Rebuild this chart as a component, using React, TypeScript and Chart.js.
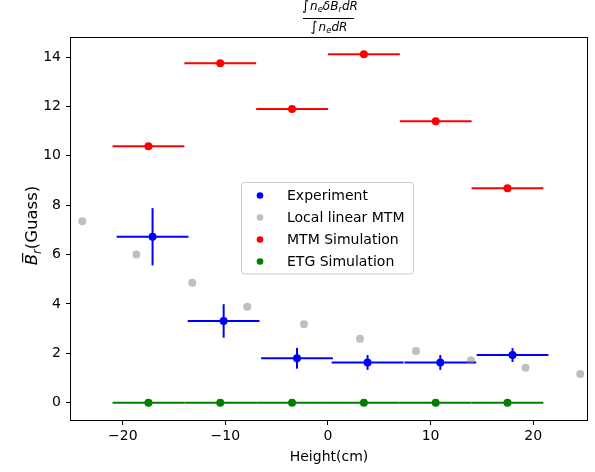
import React, { useEffect, useRef } from 'react';
import { Chart, registerables } from 'chart.js';

Chart.register(...registerables);

// ---- data ----
const binCenters = [-17.5, -10.5, -3.5, 3.5, 10.5, 17.5];
const binHalfWidths = [3.5, 3.5, 3.5, 3.5, 3.5, 3.5];

const expX = [-17.1, -10.17, -3.02, 3.86, 10.95, 17.99];
const expY = [6.72, 3.31, 1.8, 1.63, 1.63, 1.93];
const expXErr = [3.5, 3.5, 3.5, 3.5, 3.5, 3.5];
const expYErr = [1.16, 0.68, 0.42, 0.3, 0.3, 0.28];

const linX = [-23.95, -18.68, -13.23, -7.87, -2.34, 3.12, 8.58, 13.94, 19.26, 24.59];
const linY = [7.35, 6.0, 4.86, 3.89, 3.18, 2.59, 2.09, 1.72, 1.42, 1.16];

const mtmY = [10.39, 13.75, 11.89, 14.11, 11.4, 8.69];
const etgY = [0, 0, 0, 0, 0, 0];

const xTicks = [-20, -10, 0, 10, 20];
const yTicks = [0, 2, 4, 6, 8, 10, 12, 14];

const seriesLabels = ['Experiment', 'Local linear MTM', 'MTM Simulation', 'ETG Simulation'];
const seriesColors = ['#0000ff', 'rgba(128,128,128,0.5)', '#ff0000', '#008000'];

const FONT = '"DejaVu Sans", sans-serif';

type Run = { t: string; size: number; italic?: boolean; dy?: number; gap?: number };

function runsWidth(ctx: CanvasRenderingContext2D, runs: Run[]) {
  let w = 0;
  for (const r of runs) {
    ctx.font = `${r.italic ? 'italic ' : ''}${r.size}px ${FONT}`;
    w += ctx.measureText(r.t).width + (r.gap || 0);
  }
  return w;
}

function drawRuns(ctx: CanvasRenderingContext2D, runs: Run[], x: number, y: number) {
  let cx = x;
  const pos: number[] = [];
  for (const r of runs) {
    ctx.font = `${r.italic ? 'italic ' : ''}${r.size}px ${FONT}`;
    pos.push(cx);
    ctx.fillText(r.t, cx, y + (r.dy || 0));
    cx += ctx.measureText(r.t).width + (r.gap || 0);
  }
  return pos;
}

const errorBarPlugin = {
  id: 'errorBars',
  beforeDatasetsDraw(chart: any) {
    const { ctx, scales } = chart;
    const xs = scales.x;
    const ys = scales.y;
    ctx.save();
    ctx.lineWidth = 2;
    ctx.lineCap = 'butt';
    chart.data.datasets.forEach((ds: any) => {
      if (!ds.xErr && !ds.yErr) return;
      ctx.strokeStyle = ds.errColor;
      ds.data.forEach((p: any, i: number) => {
        const px = xs.getPixelForValue(p.x);
        const py = ys.getPixelForValue(p.y);
        if (ds.xErr) {
          ctx.beginPath();
          ctx.moveTo(xs.getPixelForValue(p.x - ds.xErr[i]), py);
          ctx.lineTo(xs.getPixelForValue(p.x + ds.xErr[i]), py);
          ctx.stroke();
        }
        if (ds.yErr) {
          ctx.beginPath();
          ctx.moveTo(px, ys.getPixelForValue(p.y - ds.yErr[i]));
          ctx.lineTo(px, ys.getPixelForValue(p.y + ds.yErr[i]));
          ctx.stroke();
        }
      });
    });
    ctx.restore();
  },
};

const decorPlugin = {
  id: 'decor',
  afterDatasetsDraw(chart: any) {
    const { ctx, chartArea } = chart;
    const { left, right, top, bottom } = chartArea;
    ctx.save();
    // frame
    ctx.strokeStyle = '#000';
    ctx.lineWidth = 1;
    ctx.strokeRect(left - 0.5, top - 0.5, right - left + 1, bottom - top + 1);

    // legend
    const bx = 241.5, by = 182.5, bw = 172, bh = 91.5;
    ctx.fillStyle = 'rgba(255,255,255,0.8)';
    ctx.strokeStyle = '#cccccc';
    ctx.beginPath();
    ctx.roundRect(bx, by, bw, bh, 3);
    ctx.fill();
    ctx.stroke();
    const rowY = [195.5, 217.5, 239.5, 261.5];
    ctx.textBaseline = 'middle';
    ctx.textAlign = 'left';
    chart.data.datasets.slice(0, 4).forEach((ds: any, i: number) => {
      ctx.fillStyle = ds.backgroundColor;
      ctx.beginPath();
      ctx.arc(260, rowY[i], 3.3, 0, Math.PI * 2);
      ctx.fill();
      ctx.fillStyle = '#000';
      ctx.font = `14px ${FONT}`;
      ctx.fillText(ds.label, 287, rowY[i] + 0.5);
    });

    // title (fraction)
    ctx.fillStyle = '#000';
    ctx.textBaseline = 'alphabetic';
    const num: Run[] = [
      { t: '\u222B', size: 13.5, gap: 1 },
      { t: 'n', size: 12, italic: true },
      { t: 'e', size: 8.5, italic: true, dy: 2 },
      { t: '\u03B4B', size: 12, italic: true },
      { t: 'r', size: 8.5, italic: true, dy: 2 },
      { t: 'dR', size: 12, italic: true },
    ];
    const den: Run[] = [
      { t: '\u222B', size: 13.5, gap: 1 },
      { t: 'n', size: 12, italic: true },
      { t: 'e', size: 8.5, italic: true, dy: 2 },
      { t: 'dR', size: 12, italic: true },
    ];
    const cx = (left + right) / 2;
    drawRuns(ctx, num, 302, 9.5);
    ctx.fillRect(303, 18, 51, 1);
    const dw = runsWidth(ctx, den);
    drawRuns(ctx, den, cx - dw / 2, 30.5);

    // x-axis title
    ctx.textAlign = 'center';
    ctx.textBaseline = 'middle';
    ctx.font = `14px ${FONT}`;
    ctx.fillText('Height(cm)', cx, 457.5);

    // y-axis title
    ctx.save();
    ctx.translate(37, 225.5);
    ctx.rotate(-Math.PI / 2);
    ctx.textAlign = 'left';
    ctx.textBaseline = 'alphabetic';
    const ylab: Run[] = [
      { t: 'B', size: 16.5, italic: true },
      { t: 'r', size: 11.5, italic: true, dy: 3.5 },
      { t: '(Guass)', size: 16.5 },
    ];
    const yw = runsWidth(ctx, ylab);
    const p = drawRuns(ctx, ylab, -yw / 2, 0);
    ctx.font = `italic 16.5px ${FONT}`;
    const bwid = ctx.measureText('B').width;
    ctx.fillRect(p[0] + 3, -15, bwid - 2, 1.2);
    ctx.restore();

    ctx.restore();
  },
};

const fmt = (v: any) => {
  const n = Number(v);
  return n < 0 ? '\u2212' + Math.abs(n) : String(n);
};

export default function App() {
  const ref = useRef<HTMLCanvasElement>(null);
  useEffect(() => {
    const canvas = ref.current!;
    const chart = new Chart(canvas, {
      type: 'scatter',
      data: {
        datasets: [
          {
            label: seriesLabels[0],
            data: expX.map((x, i) => ({ x, y: expY[i] })),
            backgroundColor: seriesColors[0],
            borderColor: seriesColors[0],
            pointRadius: 4,
            pointBorderWidth: 0,
            xErr: expXErr,
            yErr: expYErr,
            errColor: seriesColors[0],
          } as any,
          {
            label: seriesLabels[1],
            data: linX.map((x, i) => ({ x, y: linY[i] })),
            backgroundColor: seriesColors[1],
            borderColor: seriesColors[1],
            pointRadius: 4,
            pointBorderWidth: 0,
          },
          {
            label: seriesLabels[2],
            data: binCenters.map((x, i) => ({ x, y: mtmY[i] })),
            backgroundColor: seriesColors[2],
            borderColor: seriesColors[2],
            pointRadius: 4,
            pointBorderWidth: 0,
            xErr: binHalfWidths,
            errColor: seriesColors[2],
          } as any,
          {
            label: seriesLabels[3],
            data: binCenters.map((x, i) => ({ x, y: etgY[i] })),
            backgroundColor: seriesColors[3],
            borderColor: seriesColors[3],
            pointRadius: 4,
            pointBorderWidth: 0,
            xErr: binHalfWidths,
            errColor: seriesColors[3],
          } as any,
        ],
      },
      options: {
        animation: false,
        responsive: false,
        devicePixelRatio: 1,
        layout: { padding: { left: 0, right: 8, top: 38, bottom: 0 } },
        plugins: {
          legend: { display: false },
          title: { display: false },
          tooltip: { enabled: false },
        },
        scales: {
          x: {
            type: 'linear',
            min: -25.05,
            max: 25.25,
            afterBuildTicks: (s: any) => {
              s.ticks = xTicks.map((v) => ({ value: v }));
            },
            afterFit: (s: any) => {
              s.height = 52;
            },
            grid: { drawOnChartArea: false, drawTicks: true, tickLength: 5, color: '#000', lineWidth: 1 },
            border: { display: false },
            ticks: {
              color: '#000',
              font: { family: FONT, size: 14 },
              padding: 3,
              maxRotation: 0,
              autoSkip: false,
              callback: fmt,
            },
          },
          y: {
            type: 'linear',
            min: -0.7,
            max: 14.77,
            afterBuildTicks: (s: any) => {
              s.ticks = yTicks.map((v) => ({ value: v }));
            },
            afterFit: (s: any) => {
              s.width = 71;
            },
            grid: { drawOnChartArea: false, drawTicks: true, tickLength: 5, color: '#000', lineWidth: 1 },
            border: { display: false },
            ticks: {
              color: '#000',
              font: { family: FONT, size: 14 },
              padding: 5,
              autoSkip: false,
              callback: fmt,
            },
          },
        },
      },
      plugins: [errorBarPlugin, decorPlugin],
    });
    return () => chart.destroy();
  }, []);
  return (
    <div style={{ position: 'absolute', left: 0, top: 0, width: 595, height: 472, background: '#fff' }}>
      <canvas ref={ref} width={595} height={472} style={{ display: 'block', width: 595, height: 472 }} />
    </div>
  );
}
